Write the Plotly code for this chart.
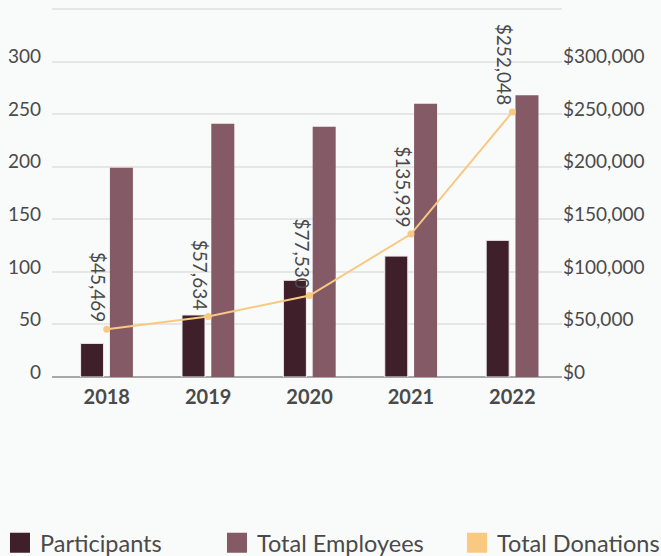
import plotly.graph_objects as go

years = ["2018", "2019", "2020", "2021", "2022"]
participants = [32, 59, 92, 115, 130]
employees = [199, 241, 238, 260, 268]
donations = [45469, 57634, 77530, 135939, 252048]
donation_labels = ["$45,469", "$57,634", "$77,530", "$135,939", "$252,048"]

left_ticks = [0, 50, 100, 150, 200, 250, 300, 350]
left_text = ["0", "50", "100", "150", "200", "250", "300", ""]
right_ticks = [0, 50000, 100000, 150000, 200000, 250000, 300000, 350000]
right_text = ["$0", "$50,000", "$100,000", "$150,000", "$200,000", "$250,000", "$300,000", ""]

C_PART = "#3e1f2a"
C_EMP = "#845a66"
C_DON = "#f9c982"
BG = "#f9fafa"
TXT = "#4a4a4a"
FONT = "Lato"

fig = go.Figure()
fig.add_trace(go.Bar(x=years, y=participants, name="Participants", marker_color=C_PART,
                     marker_line=dict(color="#f2eef0", width=1), showlegend=False))
fig.add_trace(go.Bar(x=years, y=employees, name="Total Employees", marker_color=C_EMP,
                     marker_line_width=0, showlegend=False))
fig.add_trace(go.Scatter(x=years, y=donations, name="Total Donations", yaxis="y2",
                         mode="lines+markers", line=dict(color=C_DON, width=2),
                         marker=dict(color=C_DON, size=7), showlegend=False))

# legend entries
for name, col, lg in [("Participants", C_PART, "legend"), ("Total Employees", C_EMP, "legend2"),
                      ("Total Donations", C_DON, "legend3")]:
    fig.add_trace(go.Scatter(x=[None], y=[None], mode="markers", name=name, legend=lg,
                             marker=dict(symbol="square", size=16, color=col,
                                         line=dict(color=col, width=4))))

# category axis: annotation x given as category index
for i, (v, lab) in enumerate(zip(donations, donation_labels)):
    fig.add_annotation(x=i, y=v, xref="x", yref="y2", text=lab, textangle=90, showarrow=False,
                       xanchor="right", yanchor="bottom", xshift=6, yshift=5,
                       font=dict(family=FONT, size=19, color=TXT))

legfont = dict(family=FONT, size=23.5, color=TXT)
common_leg = dict(orientation="h", yanchor="middle", y=-0.45,
                  font=legfont, bgcolor="rgba(0,0,0,0)", itemsizing="trace")

fig.update_layout(
    width=661, height=556,
    margin=dict(l=52, r=99, t=8, b=179, autoexpand=False),
    paper_bgcolor=BG, plot_bgcolor=BG,
    barmode="group", bargap=0.422, bargroupgap=0.215,
    font=dict(family=FONT, color=TXT),
    legend=dict(x=-0.102, xanchor="left", **common_leg),
    legend2=dict(x=0.3235, xanchor="left", **common_leg),
    legend3=dict(x=1.202, xanchor="right", **common_leg),
    xaxis=dict(type="category", range=[-0.54, 4.49], autorange=False,
               tickfont=dict(family=FONT, size=20, color=TXT, weight="bold"),
               showgrid=False, showline=False, zeroline=False, ticks="", ticklabelstandoff=6),
    yaxis=dict(range=[0, 351], autorange=False, tickvals=left_ticks, ticktext=left_text,
               showgrid=True, gridcolor="#e6e6e6", gridwidth=1.5,
               zeroline=True, zerolinecolor="#a8a8a8", zerolinewidth=1.5,
               tickfont=dict(family=FONT, size=19, color=TXT), ticklabelstandoff=10,
               ticklabelshift=-5),
    yaxis2=dict(range=[0, 351000], autorange=False, tickvals=right_ticks, ticktext=right_text,
                overlaying="y", side="right", showgrid=False, zeroline=False,
                tickfont=dict(family=FONT, size=19, color=TXT), ticklabelstandoff=0,
                ticklabelshift=-5),
)

fig.write_html("out.html")
